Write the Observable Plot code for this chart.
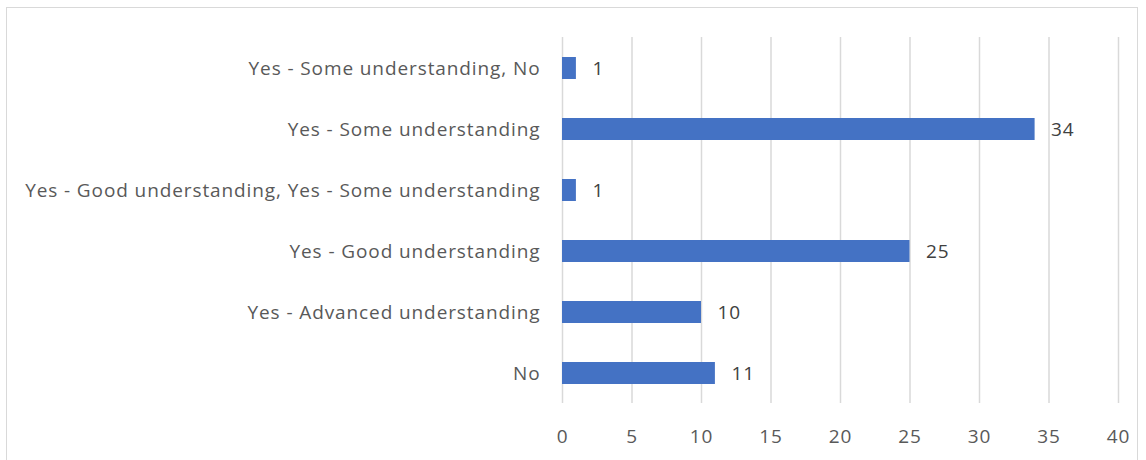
<!DOCTYPE html>
<html>
<head>
<meta charset="utf-8">
<script src="https://cdn.jsdelivr.net/npm/d3@7"></script>
<script src="https://cdn.jsdelivr.net/npm/@observablehq/plot@0.6"></script>
<style>
  html, body { margin: 0; padding: 0; background: #fff; }
  #wrap { position: relative; width: 1146px; height: 460px; overflow: hidden; }
  #border { position: absolute; left: 6px; top: 7px; width: 1132px; height: 470px; border: 1px solid #d9d9d9; box-sizing: border-box; }
  #chart { position: absolute; left: 0; top: 0; }
</style>
</head>
<body>
<div id="wrap">
  <div id="border"></div>
  <div id="chart"></div>
</div>
<script>
const categories = [
  "Yes - Some understanding, No",
  "Yes - Some understanding",
  "Yes - Good understanding, Yes - Some understanding",
  "Yes - Good understanding",
  "Yes - Advanced understanding",
  "No"
];
const counts = [1, 34, 1, 25, 10, 11];
const xTicks = [0, 5, 10, 15, 20, 25, 30, 35, 40];

const data = categories.map((c, i) => ({category: c, count: counts[i]}));

const chart = Plot.plot({
  width: 1146,
  height: 460,
  marginLeft: 562,
  marginRight: 28,
  marginTop: 37,
  marginBottom: 57,
  style: {fontFamily: "'Open Sans', sans-serif", fontSize: "19px", letterSpacing: "0.9px", color: "#595959", background: "transparent"},
  x: {domain: [0, 40], ticks: xTicks, label: null},
  y: {domain: categories, paddingInner: 0.64, paddingOuter: 0.32, label: null},
  marks: [
    Plot.gridX(xTicks, {stroke: "#d9d9d9", strokeOpacity: 1, strokeWidth: 1.5}),
    Plot.barX(data, {x: "count", y: "category", fill: "#4472C4"}),
    Plot.text(data, {x: "count", y: "category", text: d => String(d.count), textAnchor: "start", dx: 16, fill: "#404040", fontSize: 19}),
    Plot.axisX({ticks: xTicks, tickSize: 0, tickPadding: 26, fontSize: 19, fill: "#595959", label: null}),
    Plot.axisY({tickSize: 0, tickPadding: 22, fontSize: 19, fill: "#595959", label: null, textAnchor: "end"})
  ]
});
document.getElementById("chart").appendChild(chart);
</script>
</body>
</html>
